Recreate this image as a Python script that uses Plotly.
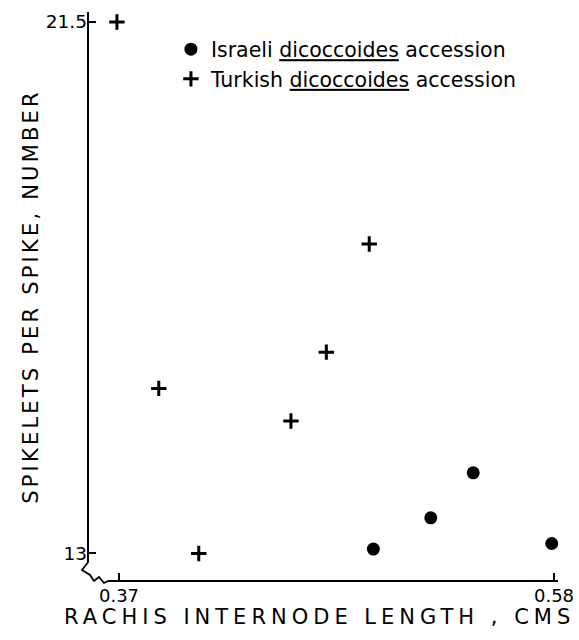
import plotly.graph_objects as go

# Data
israeli_x = [0.4928, 0.5205, 0.5410, 0.5789]
israeli_y = [13.07, 13.57, 14.29, 13.16]

turkish_x = [0.369, 0.3892, 0.4085, 0.4530, 0.4701, 0.4908]
turkish_y = [21.5, 15.64, 13.0, 15.12, 16.22, 17.95]

x_tickvals = [0.37, 0.58]
x_ticktext = ["0.37", "0.58"]
y_tickvals = [13, 21.5]
y_ticktext = ["13", "21.5"]

x_title = "RACHIS INTERNODE LENGTH , CMS"
y_title = "SPIKELETS PER SPIKE, NUMBER"

FONT = "DejaVu Sans"
U = '<span style="text-decoration:underline">dicoccoides</span>'

fig = go.Figure()
fig.add_trace(go.Scatter(
    x=israeli_x, y=israeli_y, mode="markers",
    name=f"Israeli {U} accession", legendgroup="a",
    marker=dict(symbol="circle", size=13, color="black"),
))
fig.add_trace(go.Scatter(
    x=turkish_x, y=turkish_y, mode="markers",
    name=f"Turkish {U} accession", legendgroup="b",
    marker=dict(symbol="cross-thin", size=11, color="black",
                line=dict(color="black", width=3)),
))

axis_line = dict(color="black", width=2)
shapes = [
    dict(type="line", xref="paper", yref="paper", x0=0, x1=0, y0=0.0334, y1=1, line=axis_line),
    dict(type="line", xref="paper", yref="paper", x0=0.0422, x1=0.9916, y0=0, y1=0, line=axis_line),
    dict(type="path", xref="paper", yref="paper",
         path="M 0.0006 0.0334 L -0.0127 0.0193 L 0.0042 0.0105 L 0.0127 0 L 0.0232 0.0070 L 0.0338 -0.0035 L 0.0422 0",
         line=dict(color="black", width=1.8)),
]

fig.update_layout(
    width=579, height=640,
    margin=dict(l=88, r=17, t=12, b=59, autoexpand=False),
    paper_bgcolor="white", plot_bgcolor="white",
    font=dict(family=FONT, color="black", size=17),
    showlegend=True,
    legend=dict(x=0.175, y=0.9695, xanchor="left", yanchor="top",
                bgcolor="rgba(0,0,0,0)", font=dict(size=20.5, family=FONT),
                traceorder="grouped", tracegroupgap=0, itemwidth=30),
    shapes=shapes,
    annotations=[dict(
        text=f'<span style="letter-spacing:5px">{x_title}</span>',
        xref="paper", yref="paper", x=-0.0549, y=-0.0633,
        xanchor="left", yanchor="middle", showarrow=False,
        font=dict(size=21, family=FONT, color="black"),
    )],
    xaxis=dict(
        range=[0.35503, 0.58386], showgrid=False, zeroline=False, showline=False,
        automargin=False,
        tickvals=x_tickvals, ticktext=x_ticktext, ticks="inside", ticklen=8,
        tickwidth=1.5, tickcolor="black", tickfont=dict(size=18, family=FONT),
        ticklabelstandoff=2,
    ),
    yaxis=dict(
        range=[12.56, 21.66], showgrid=False, zeroline=False, showline=False,
        automargin=False,
        tickvals=y_tickvals, ticktext=y_ticktext, ticks="inside", ticklen=8,
        tickwidth=1.5, tickcolor="black", tickfont=dict(size=18.5, family=FONT),
        title=dict(text=f'<span style="letter-spacing:3.2px">{y_title}</span>',
                   font=dict(size=21, family=FONT), standoff=1),
    ),
)

fig.write_html("out.html", config={"displayModeBar": False},
               post_script="document.body.style.margin='0px';")
